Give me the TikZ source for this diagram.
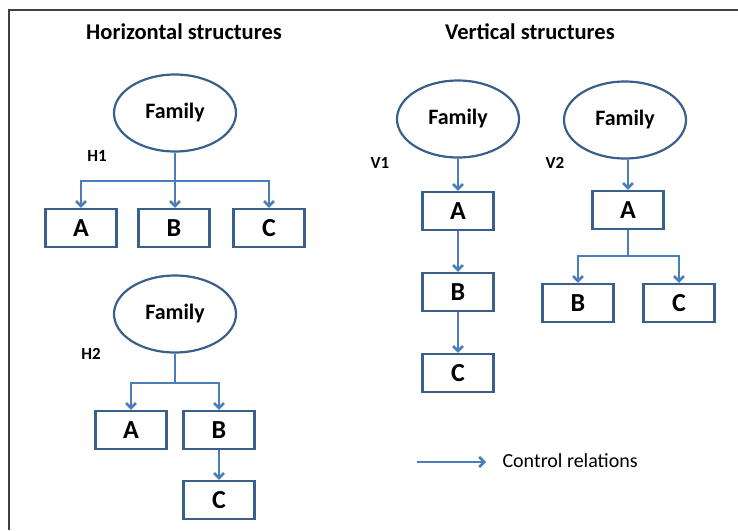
\documentclass[tikz,border=0pt]{standalone}
\usepackage{fontspec}
\setmainfont{Carlito}
\usetikzlibrary{shapes.geometric,arrows.meta}
\definecolor{edgeblue}{HTML}{3A5F8B}
\definecolor{arrowblue}{HTML}{4A7EBB}
\begin{document}
\begin{tikzpicture}[x=1pt,y=-1pt,
  family/.style={ellipse, draw=edgeblue, line width=2.2pt, minimum width=122pt, minimum height=77pt, inner sep=0pt, font=\fontsize{22}{26}\selectfont\bfseries},
  unit/.style={rectangle, draw=edgeblue, line width=2.2pt, minimum width=71pt, minimum height=38pt, inner sep=0pt, font=\fontsize{26}{30}\selectfont\bfseries},
  tag/.style={font=\fontsize{17}{20}\selectfont\bfseries},
  title/.style={font=\fontsize{22.5}{26}\selectfont\bfseries},
  ctrl/.style={draw=arrowblue, line width=2.6pt, -{Straight Barb[length=5pt,width=10pt]}}]
\useasboundingbox (0,0) rectangle (738,530);
\draw[black!75, line width=1.8pt] (9,530) -- (9,10) -- (738,10);
\node[title] (htitle) at (184,32) {Horizontal structures};
\node[title] (vtitle) at (530,32) {Vertical structures};
% H1
\node[family] (h1fam) at (175,113) {Family};
\node[tag] (h1tag) at (97,156) {H1};
\node[unit] (h1a) at (81,228) {A};
\node[unit] (h1b) at (174,228) {B};
\node[unit] (h1c) at (269,228) {C};
\coordinate (h1j) at (175,181);
\draw[draw=arrowblue, line width=2.6pt] (h1fam.south) -- (h1j);
\draw[ctrl] (h1j) -| (h1a.north);
\draw[ctrl] (h1j) -| (h1c.north);
\draw[ctrl] (h1j) -- (h1j |- h1b.north);
% H2
\node[family] (h2fam) at (175,314) {Family};
\node[tag] (h2tag) at (91,354) {H2};
\node[unit] (h2a) at (131,430) {A};
\node[unit] (h2b) at (219,430) {B};
\node[unit] (h2c) at (219,500) {C};
\coordinate (h2j) at (175,383);
\draw[draw=arrowblue, line width=2.6pt] (h2fam.south) -- (h2j);
\draw[ctrl] (h2j) -| (h2a.north);
\draw[ctrl] (h2j) -| (h2b.north);
\draw[ctrl] (h2b.south) -- (h2c.north);
% V1
\node[family] (v1fam) at (458,119) {Family};
\node[tag] (v1tag) at (380,163) {V1};
\node[unit] (v1a) at (458,211) {A};
\node[unit] (v1b) at (458,292) {B};
\node[unit] (v1c) at (458,373) {C};
\draw[ctrl] (v1fam.south) -- (v1a.north);
\draw[ctrl] (v1a.south) -- (v1b.north);
\draw[ctrl] (v1b.south) -- (v1c.north);
% V2
\node[family] (v2fam) at (625,120) {Family};
\node[tag] (v2tag) at (555,163) {V2};
\node[unit] (v2a) at (628,210) {A};
\node[unit] (v2b) at (578,303) {B};
\node[unit] (v2c) at (679,303) {C};
\coordinate (v2j) at (628,256);
\draw[ctrl] (v2a.north |- v2fam.south) -- (v2a.north);
\draw[draw=arrowblue, line width=2.6pt] (v2a.south) -- (v2j);
\draw[ctrl] (v2j) -| (v2b.north);
\draw[ctrl] (v2j) -| (v2c.north);
% legend
\coordinate (leg1) at (417,462);
\coordinate (leg2) at (486,462);
\draw[ctrl] (leg1) -- (leg2);
\node[anchor=west, font=\fontsize{20}{24}\selectfont] (legtext) at (499,461) {Control relations};
\end{tikzpicture}
\end{document}
